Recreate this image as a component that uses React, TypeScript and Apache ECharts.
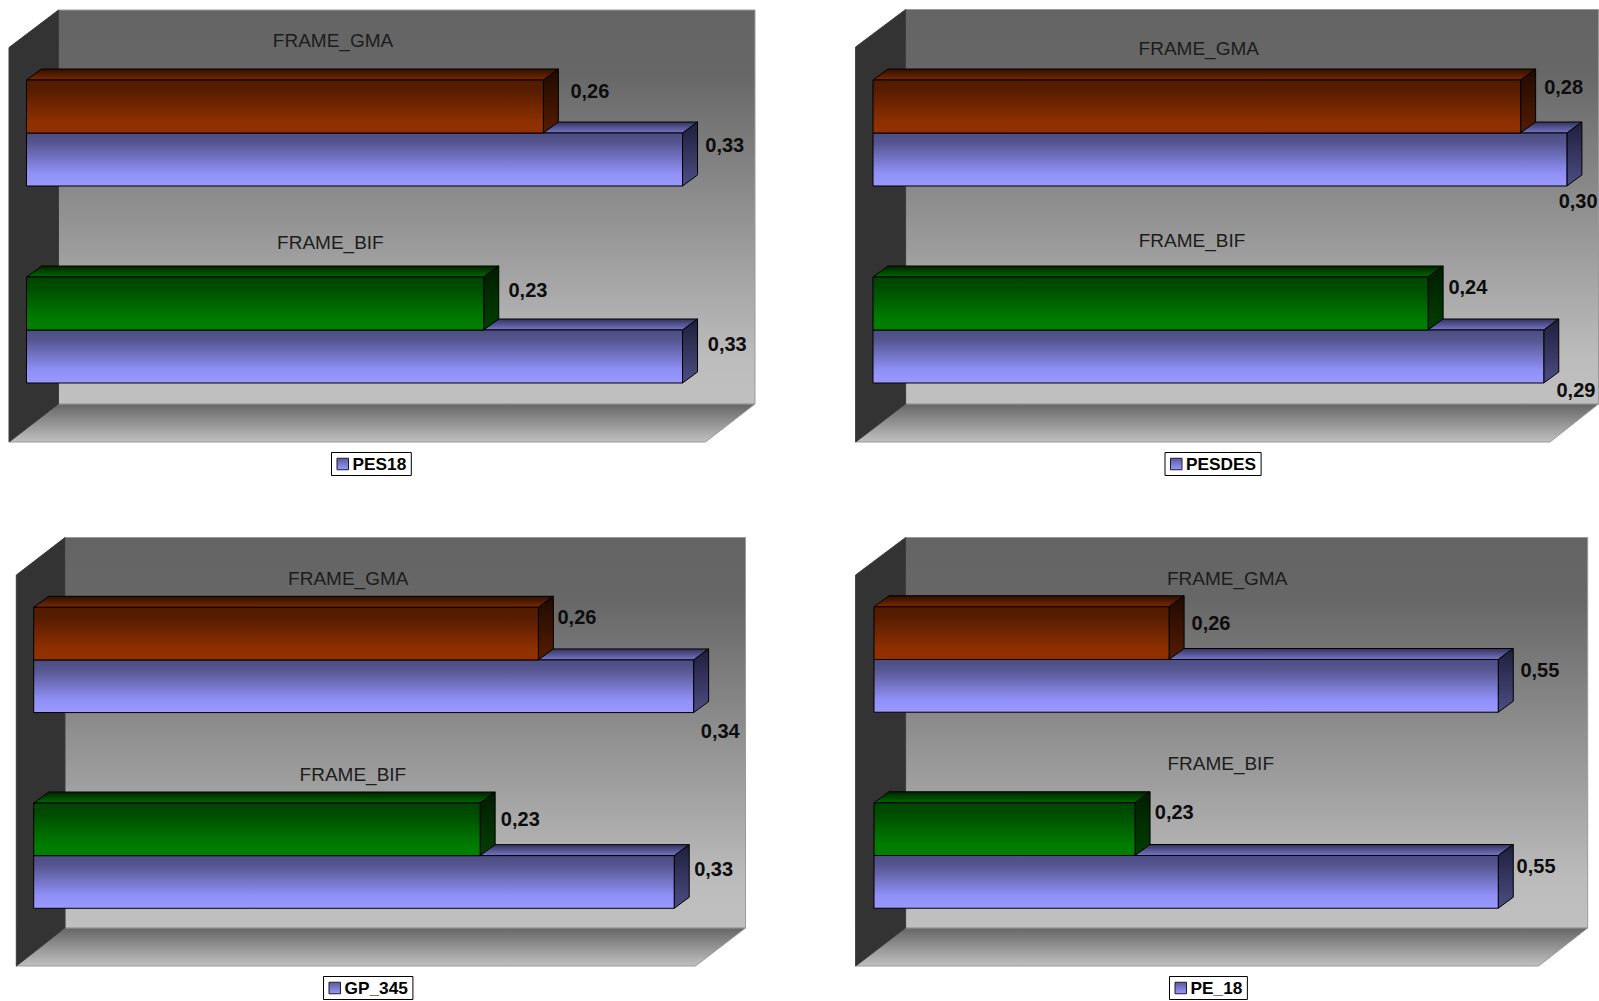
import React, { useEffect, useRef } from "react";
import * as echarts from "echarts";

// Data
const CATEGORIES = ["FRAME_GMA", "FRAME_BIF"];
const SERIES_NAMES = ["PES18", "PESDES", "GP_345", "PE_18"];
const PES18 = [0.33, 0.33];
const PESDES = [0.3, 0.29];
const GP_345 = [0.34, 0.33];
const PE_18 = [0.55, 0.55];
const FRAME_PES18 = [0.26, 0.23];
const FRAME_PESDES = [0.28, 0.24];
const FRAME_GP_345 = [0.26, 0.23];
const FRAME_PE_18 = [0.26, 0.23];

const MAIN_VALUES = [PES18, PESDES, GP_345, PE_18];
const FRAME_VALUES = [FRAME_PES18, FRAME_PESDES, FRAME_GP_345, FRAME_PE_18];

// Layout of each small chart: plot area, room box, legend box and label offsets
const LAYOUTS = [
  {
    grid: { left: 26.5, top: 34.5, scale: 1988, max: 0.35, band: 197 },
    room: { sx: 9, wx: 58.5, wr: 755, fr: 705.5, wt: 10, st: 47.5, wb: 404, fb: 442 },
    legend: { left: 331.5, top: 452.5 },
    catOffset: [[306.5, -92.2], [303.9, -87.3]],
    frameOffset: [[46.5, -15.5], [44.2, -13.3]],
    mainOffset: [[42.2, -14.2], [44.7, -12]],
  },
  {
    grid: { left: 873, top: 34.5, scale: 2313, max: 0.3, band: 197 },
    room: { sx: 855.6, wx: 905.6, wr: 1598.5, fr: 1550, wt: 9.5, st: 47, wb: 404, fb: 442 },
    legend: { left: 1165, top: 452.5 },
    catOffset: [[325.8, -85], [319, -89.3]],
    frameOffset: [[43, -19.7], [39.8, -16.1]],
    mainOffset: [[11.2, 41.7], [32.2, 33.6]],
  },
  {
    grid: { left: 33.7, top: 562.1, scale: 1941, max: 0.35, band: 195.7 },
    room: { sx: 16.3, wx: 65, wr: 745.5, fr: 695.5, wt: 537.5, st: 575, wb: 928, fb: 966 },
    legend: { left: 323.5, top: 976.5 },
    catOffset: [[314.6, -81.5], [319.2, -81.5]],
    frameOffset: [[38.6, -16.9], [40.2, -9.9]],
    mainOffset: [[26.6, 44.4], [39.4, -12.8]],
  },
  {
    grid: { left: 874, top: 561.5, scale: 1135, max: 0.6, band: 196 },
    room: { sx: 855.6, wx: 905.6, wr: 1587.7, fr: 1538.7, wt: 537.5, st: 575, wb: 928, fb: 966 },
    legend: { left: 1169.5, top: 976.5 },
    catOffset: [[353.2, -81.5], [346.7, -92]],
    frameOffset: [[41.9, -10], [39.2, -16.7]],
    mainOffset: [[41.6, -16.3], [37.8, -15.7]],
  },
];

const DEPTH_X = 15;
const DEPTH_Y = 11;
const BAR_RATIO = 0.269;
const SANS = '"Liberation Sans", Arial, sans-serif';

const vertical = (stops: [number, string][]) => ({
  type: "linear",
  x: 0,
  y: 0,
  x2: 0,
  y2: 1,
  colorStops: stops.map(([offset, color]) => ({ offset, color })),
});

const BLUE = {
  front: vertical([[0, "#4d4d85"], [0.18, "#55558f"], [0.75, "#8f8ff5"], [1, "#9999ff"]]),
  top: vertical([[0, "#33335c"], [1, "#7676c8"]]),
  side: vertical([[0, "#1e1e3c"], [1, "#4d4d85"]]),
};
const RED = {
  front: vertical([[0, "#521c00"], [0.2, "#571d00"], [0.8, "#8f3000"], [1, "#933000"]]),
  top: vertical([[0, "#2c0f00"], [1, "#7c2900"]]),
  side: vertical([[0, "#1f0a00"], [1, "#551c00"]]),
};
const GREEN = {
  front: vertical([[0, "#004400"], [0.2, "#004c00"], [0.8, "#007c00"], [1, "#008000"]]),
  top: vertical([[0, "#002200"], [1, "#006800"]]),
  side: vertical([[0, "#001c00"], [1, "#004000"]]),
};
const FRAME_COLORS = [RED, GREEN];

const LEGEND_SWATCH = vertical([[0, "#5a5a9c"], [1, "#9999ff"]]);

// Draws one extruded bar and its value label; `upper` bars sit above the band centre
function barRenderer(
  palettes: (typeof BLUE)[],
  offsets: number[][],
  upper: boolean,
) {
  return (_params: any, api: any) => {
    const value = api.value(0);
    const cat = api.value(1);
    const start = api.coord([0, cat]);
    const end = api.coord([value, cat]);
    const h = api.size([0, 1])[1] * BAR_RATIO;
    const x0 = start[0];
    const x1 = end[0];
    const yTop = upper ? start[1] - h : start[1];
    const yBot = yTop + h;
    const pal = palettes[cat];
    const [ox, oy] = offsets[cat];
    const stroke = { stroke: "#000", lineWidth: 1 };
    return {
      type: "group",
      children: [
        {
          type: "polygon",
          shape: { points: [[x0, yTop], [x0 + DEPTH_X, yTop - DEPTH_Y], [x1 + DEPTH_X, yTop - DEPTH_Y], [x1, yTop]] },
          style: { fill: pal.top, ...stroke },
        },
        {
          type: "polygon",
          shape: { points: [[x1, yTop], [x1 + DEPTH_X, yTop - DEPTH_Y], [x1 + DEPTH_X, yBot - DEPTH_Y], [x1, yBot]] },
          style: { fill: pal.side, ...stroke },
        },
        {
          type: "rect",
          shape: { x: x0, y: yTop, width: x1 - x0, height: h },
          style: { fill: pal.front, ...stroke },
        },
        {
          type: "text",
          style: {
            text: value.toFixed(2).replace(".", ","),
            x: x1 + ox,
            y: (yTop + yBot) / 2 + oy,
            align: "center",
            verticalAlign: "middle",
            fill: "#0d0d0d",
            font: `bold 20px ${SANS}`,
          },
        },
      ],
    };
  };
}

// Category captions float above each pair of bars
function captionRenderer(offsets: number[][]) {
  return (_params: any, api: any) => {
    const cat = api.value(1);
    const start = api.coord([0, cat]);
    const [ox, oy] = offsets[cat];
    return {
      type: "text",
      style: {
        text: CATEGORIES[cat],
        x: start[0] + ox,
        y: start[1] + oy,
        align: "center",
        verticalAlign: "middle",
        fill: "#1c1c1c",
        font: `19px ${SANS}`,
      },
    };
  };
}

function roomGraphics(room: (typeof LAYOUTS)[number]["room"]) {
  const { sx, wx, wr, fr, wt, st, wb, fb } = room;
  return [
    {
      type: "polygon",
      z: 0,
      shape: { points: [[wx, wt], [wr, wt], [wr, wb], [wx, wb]] },
      style: {
        fill: vertical([[0, "#646464"], [0.16, "#676767"], [0.88, "#bcbcbc"], [1, "#c0c0c0"]]),
        stroke: "#9a9a9a",
        lineWidth: 1,
      },
    },
    {
      type: "polygon",
      z: 0,
      shape: { points: [[sx, fb], [wx, wb], [wr, wb], [fr, fb]] },
      style: { fill: vertical([[0, "#666666"], [1, "#c0c0c0"]]), stroke: "#9a9a9a", lineWidth: 1 },
    },
    {
      type: "polygon",
      z: 0,
      shape: { points: [[sx, st], [wx, wt], [wx, wb], [sx, fb]] },
      style: { fill: "#333333", stroke: "#3c3c3c", lineWidth: 1 },
    },
  ];
}

function buildOption() {
  const series: any[] = [];
  LAYOUTS.forEach((layout, i) => {
    series.push({
      type: "custom",
      name: SERIES_NAMES[i],
      xAxisIndex: i,
      yAxisIndex: i,
      coordinateSystem: "cartesian2d",
      encode: { x: 0, y: 1 },
      itemStyle: { color: LEGEND_SWATCH },
      data: MAIN_VALUES[i].map((v, c) => [v, c]),
      renderItem: barRenderer([BLUE, BLUE], layout.mainOffset, false),
    });
    series.push({
      type: "custom",
      name: `FRAME ${SERIES_NAMES[i]}`,
      xAxisIndex: i,
      yAxisIndex: i,
      coordinateSystem: "cartesian2d",
      encode: { x: 0, y: 1 },
      data: FRAME_VALUES[i].map((v, c) => [v, c]),
      renderItem: barRenderer(FRAME_COLORS, layout.frameOffset, true),
    });
    series.push({
      type: "custom",
      name: `Captions ${SERIES_NAMES[i]}`,
      xAxisIndex: i,
      yAxisIndex: i,
      coordinateSystem: "cartesian2d",
      encode: { x: 0, y: 1 },
      data: CATEGORIES.map((_, c) => [0, c]),
      renderItem: captionRenderer(layout.catOffset),
    });
  });

  return {
    animation: false,
    backgroundColor: "#ffffff",
    tooltip: { show: false },
    grid: LAYOUTS.map(({ grid }) => ({
      left: grid.left,
      top: grid.top,
      width: grid.scale * grid.max,
      height: grid.band * CATEGORIES.length,
      containLabel: false,
      show: false,
    })),
    xAxis: LAYOUTS.map(({ grid }, i) => ({
      type: "value",
      gridIndex: i,
      min: 0,
      max: grid.max,
      show: false,
    })),
    yAxis: LAYOUTS.map((_, i) => ({
      type: "category",
      gridIndex: i,
      inverse: true,
      data: CATEGORIES,
      show: false,
    })),
    legend: LAYOUTS.map(({ legend }, i) => ({
      show: true,
      left: legend.left,
      top: legend.top,
      orient: "horizontal",
      data: [SERIES_NAMES[i]],
      selectedMode: false,
      icon: "rect",
      itemWidth: 11.5,
      itemHeight: 11.5,
      itemGap: 0,
      padding: [3, 5, 3, 5],
      backgroundColor: "#ffffff",
      borderColor: "#000000",
      borderWidth: 1,
      itemStyle: { borderColor: "#1a1a33", borderWidth: 1 },
      textStyle: {
        color: "#000000",
        fontFamily: SANS,
        fontWeight: "bold",
        fontSize: 17.3,
        padding: [0, 0, 0, -1],
      },
    })),
    graphic: { elements: LAYOUTS.flatMap(({ room }) => roomGraphics(room)) },
    series,
  };
}

export default function App() {
  const ref = useRef<HTMLDivElement>(null);
  useEffect(() => {
    const chart = echarts.init(ref.current!, undefined, { renderer: "svg" });
    chart.setOption(buildOption() as any);
    return () => chart.dispose();
  }, []);
  return (
    <div
      ref={ref}
      style={{ position: "absolute", left: 0, top: 0, width: 1599, height: 1001 }}
    />
  );
}
